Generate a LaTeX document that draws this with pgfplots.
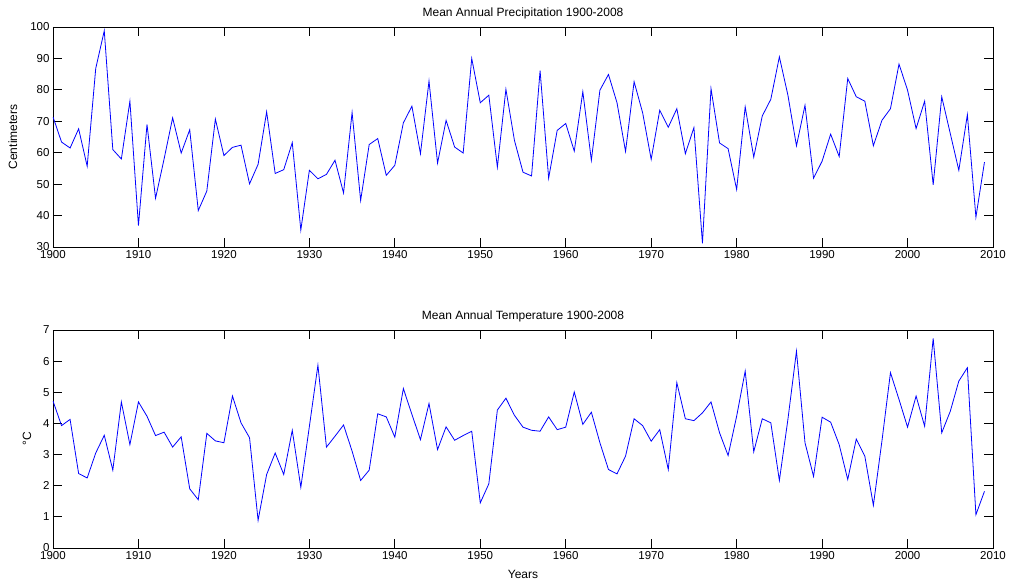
\documentclass[border=0pt]{standalone}
\usepackage{fontspec}
\setmainfont{Liberation Sans}
\usepackage{pgfplots}
\pgfplotsset{compat=1.18}

\pgfplotsset{
  matlab/.style={
    scale only axis, width=940pt,
    xmin=1900, xmax=2010, xtick distance=10,
    tick align=inside, tick pos=both, major tick length=9pt,
    axis line style={line width=0.8pt}, tick style={line width=0.8pt,black},
    /pgf/number format/assume math mode=true,
    xticklabel style={/pgf/number format/1000 sep={}},
    ticklabel style={font=\fontsize{11.5}{13}\selectfont},
    title style={font=\fontsize{12}{14}\selectfont, yshift=-2pt},
    label style={font=\fontsize{12}{14}\selectfont},
  },
}

\begin{document}
\begin{tikzpicture}
\useasboundingbox (-53pt,-36pt) rectangle (961pt,548pt);

\begin{axis}[matlab, at={(0pt,301pt)}, height=220pt,
  ymin=30, ymax=100, ytick distance=10,
  title={Mean Annual Precipitation 1900-2008},
  ylabel={Centimeters},
  ylabel style={at={(axis description cs:-0.0426,0.5)}, anchor=center}]
\addplot[color={rgb,255:red,0;green,0;blue,255}, line width=0.8pt] coordinates {
(1900,71.4) (1901,63.4) (1902,61.5) (1903,67.6) (1904,55.7) (1905,86.8)
(1906,98.8) (1907,61.0) (1908,58.0) (1909,76.4) (1910,36.8) (1911,69.0)
(1912,45.5) (1913,58.0) (1914,71.1) (1915,59.9) (1916,67.3) (1917,41.6)
(1918,47.8) (1919,70.7) (1920,59.1) (1921,61.7) (1922,62.4) (1923,50.1)
(1924,56.3) (1925,73.0) (1926,53.4) (1927,54.6) (1928,63.2) (1929,35.4)
(1930,54.4) (1931,51.7) (1932,53.1) (1933,57.6) (1934,47.2) (1935,72.8)
(1936,44.8) (1937,62.6) (1938,64.5) (1939,52.8) (1940,56.0) (1941,69.5)
(1942,74.8) (1943,59.7) (1944,82.8) (1945,56.7) (1946,70.3) (1947,61.8)
(1948,59.9) (1949,90.0) (1950,75.9) (1951,78.3) (1952,55.4) (1953,80.2)
(1954,63.9) (1955,53.8) (1956,52.6) (1957,86.1) (1958,51.9) (1959,67.1)
(1960,69.3) (1961,60.5) (1962,79.4) (1963,57.6) (1964,79.9) (1965,84.9)
(1966,75.9) (1967,60.4) (1968,82.6) (1969,72.7) (1970,57.9) (1971,73.5)
(1972,68.1) (1973,74.0) (1974,59.7) (1975,68.0) (1976,31.2) (1977,80.4)
(1978,63.1) (1979,61.3) (1980,48.3) (1981,74.6) (1982,58.6) (1983,71.7)
(1984,77.0) (1985,90.5) (1986,78.3) (1987,62.2) (1988,75.1) (1989,51.9)
(1990,57.3) (1991,65.9) (1992,58.8) (1993,83.6) (1994,77.8) (1995,76.4)
(1996,62.2) (1997,70.3) (1998,74.0) (1999,88.2) (2000,79.9) (2001,67.7)
(2002,76.4) (2003,49.8) (2004,77.8) (2005,66.1) (2006,54.4) (2007,72.1)
(2008,39.5) (2009,57.0)
};
\end{axis}

\begin{axis}[matlab, at={(0pt,0pt)}, height=218pt,
  ymin=0, ymax=7, ytick distance=1,
  title={Mean Annual Temperature 1900-2008},
  xlabel={Years}, ylabel={°C},
  xlabel style={at={(axis description cs:0.5,0)}, yshift=-26pt, anchor=center},
  ylabel style={at={(axis description cs:-0.0277,0.5)}, anchor=center}]
\addplot[color={rgb,255:red,0;green,0;blue,255}, line width=0.8pt] coordinates {
(1900,4.72) (1901,3.93) (1902,4.13) (1903,2.39) (1904,2.25) (1905,3.05)
(1906,3.62) (1907,2.50) (1908,4.69) (1909,3.32) (1910,4.69) (1911,4.23)
(1912,3.61) (1913,3.72) (1914,3.24) (1915,3.57) (1916,1.90) (1917,1.55)
(1918,3.68) (1919,3.44) (1920,3.38) (1921,4.88) (1922,4.02) (1923,3.54)
(1924,0.89) (1925,2.36) (1926,3.05) (1927,2.36) (1928,3.78) (1929,1.95)
(1930,3.90) (1931,5.87) (1932,3.24) (1933,3.59) (1934,3.95) (1935,3.11)
(1936,2.17) (1937,2.50) (1938,4.31) (1939,4.21) (1940,3.56) (1941,5.12)
(1942,4.29) (1943,3.48) (1944,4.64) (1945,3.16) (1946,3.89) (1947,3.46)
(1948,3.61) (1949,3.75) (1950,1.45) (1951,2.06) (1952,4.43) (1953,4.81)
(1954,4.26) (1955,3.88) (1956,3.78) (1957,3.75) (1958,4.21) (1959,3.80)
(1960,3.88) (1961,5.01) (1962,3.97) (1963,4.36) (1964,3.38) (1965,2.52)
(1966,2.38) (1967,2.95) (1968,4.15) (1969,3.93) (1970,3.43) (1971,3.80)
(1972,2.52) (1973,5.31) (1974,4.15) (1975,4.09) (1976,4.34) (1977,4.69)
(1978,3.70) (1979,2.97) (1980,4.23) (1981,5.68) (1982,3.09) (1983,4.15)
(1984,4.02) (1985,2.17) (1986,4.13) (1987,6.32) (1988,3.38) (1989,2.30)
(1990,4.20) (1991,4.04) (1992,3.32) (1993,2.20) (1994,3.50) (1995,2.95)
(1996,1.37) (1997,3.43) (1998,5.63) (1999,4.77) (2000,3.88) (2001,4.88)
(2002,3.91) (2003,6.73) (2004,3.70) (2005,4.39) (2006,5.36) (2007,5.79)
(2008,1.07) (2009,1.82)
};
\end{axis}
\end{tikzpicture}
\end{document}
